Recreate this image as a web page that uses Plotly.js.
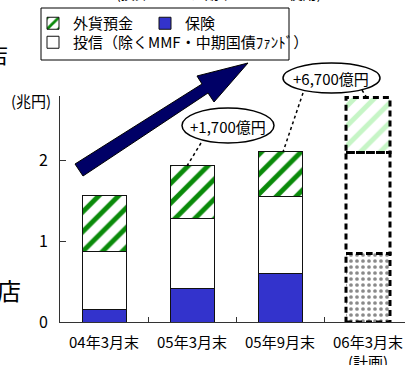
<!DOCTYPE html>
<html>
<head>
<meta charset="utf-8">
<script src="https://cdn.plot.ly/plotly-3.0.1.min.js"></script>
<style>
  html, body { margin: 0; padding: 0; background: #fff; }
  #chart { width: 405px; height: 365px; }
</style>
</head>
<body>
<div id="chart"></div>
<script>
// Categories (period ends; last one is the plan)
const periods = ['04年3月末', '05年3月末', '05年9月末', '06年3月末<br>(計画)'];

// Balances in trillion yen, stacked bottom to top
const hoken   = [0.15, 0.41, 0.60, 0.85];   // 保険
const toushin = [0.72, 0.87, 0.96, 1.25];   // 投信（除くMMF・中期国債ﾌｧﾝﾄﾞ）
const gaika   = [0.70, 0.66, 0.55, 0.68];   // 外貨預金

const yTicks = [0, 1, 2];
const planIndex = 3;

const FONT = '"Noto Sans CJK JP", "Noto Sans", sans-serif';
const W = 405, H = 365;
const M = { l: 60, r: 0, t: 96, b: 43 };
const plotW = W - M.l - M.r, plotH = H - M.t - M.b;

// pixel position -> paper coordinates for decorations around the plot
const px = x => (x - M.l) / plotW;
const py = y => (H - M.b - y) / plotH;

const isPlan = periods.map((_, i) => i === planIndex);
const lineW = isPlan.map(p => (p ? 0 : 1));
// split a series into its actual part and its planned part
const actualOf = s => s.map((v, i) => (isPlan[i] ? null : v));
const planOf = s => s.map((v, i) => (isPlan[i] ? v : null));

const traces = [
  {
    type: 'bar', name: '保険', x: periods, y: actualOf(hoken), legend: 'legend', legendrank: 2,
    marker: { color: '#3333cc', line: { color: '#111', width: 1 } }
  },
  {
    type: 'bar', name: '保険（計画）', x: periods, y: planOf(hoken), showlegend: false,
    marker: {
      color: '#ffffff', line: { width: 0 },
      pattern: { shape: '.', fgcolor: '#8a8a8a', bgcolor: '#ffffff', size: 6, solidity: 0.3 }
    }
  },
  {
    type: 'bar', name: '投信（除くMMF・中期国債ﾌｧﾝﾄﾞ）', x: periods, y: toushin, legend: 'legend2',
    marker: { color: '#ffffff', line: { color: '#111', width: lineW } }
  },
  {
    type: 'bar', name: '外貨預金', x: periods, y: gaika, legend: 'legend', legendrank: 1,
    marker: {
      color: '#ffffff',
      line: { color: '#111', width: lineW },
      pattern: {
        shape: '/',
        fgcolor: isPlan.map(p => p ? '#c6f5c6' : '#0a8a0a'),
        bgcolor: '#ffffff', size: 14, solidity: 0.35
      }
    }
  }
];

// dashed outlines around the planned segments
const shapes = [];
let base = 0;
[hoken, toushin, gaika].forEach(series => {
  const top = base + series[planIndex];
  shapes.push({
    type: 'rect', xref: 'x', yref: 'y',
    x0: planIndex - 0.25, x1: planIndex + 0.25, y0: base, y1: top,
    line: { color: '#000', width: 3, dash: '6px,4px' }, fillcolor: 'rgba(0,0,0,0)', layer: 'above'
  });
  base = top;
});

// growth arrow
const arrowPts = [[75, 164], [202, 84], [197, 76], [248, 63], [214, 102], [208, 93], [83, 176]];
shapes.push({
  type: 'path', xref: 'paper', yref: 'paper',
  path: 'M' + arrowPts.map(p => px(p[0]).toFixed(4) + ',' + py(p[1]).toFixed(4)).join(' L') + ' Z',
  fillcolor: '#000066', line: { color: '#000', width: 1 }
});

// leader lines and balloons for increments
[[[201, 143], [187, 166]], [[303, 93], [283, 152]], [[362, 90], [367, 98]]].forEach(([a, b]) => {
  shapes.push({
    type: 'line', xref: 'paper', yref: 'paper',
    x0: px(a[0]), y0: py(a[1]), x1: px(b[0]), y1: py(b[1]),
    line: { color: '#000', width: 1.5, dash: 'dot' }
  });
});
[[182, 108, 274, 143], [283, 63, 380, 93]].forEach(([x0, y0, x1, y1]) => {
  shapes.push({
    type: 'circle', xref: 'paper', yref: 'paper',
    x0: px(x0), x1: px(x1), y0: py(y1), y1: py(y0),
    fillcolor: '#ffffff', line: { color: '#000', width: 1.5 }
  });
});

// legend frame shared by both legend rows
shapes.push({
  type: 'rect', xref: 'paper', yref: 'paper',
  x0: px(41), x1: px(289), y0: py(60), y1: py(8),
  fillcolor: 'rgba(0,0,0,0)', line: { color: '#000', width: 1 }
});

const ann = (text, x, y, size, extra) => Object.assign({
  text, xref: 'paper', yref: 'paper', x: px(x), y: py(y), showarrow: false,
  xanchor: 'center', yanchor: 'middle',
  font: { family: FONT, size, color: '#000' }
}, extra || {});

const annotations = [
  ann('+1,700億円', 228, 126, 15),
  ann('+6,700億円', 331, 78, 15),
  ann('(兆円)', 31, 100, 15),
  ann('店', -3, 53, 22),
  ann('店', 9, 289, 24),
  ann('(換算レートは期末レートを使用)', 218, 5, 14, { yanchor: 'bottom' })
];

const legendBase = {
  orientation: 'h', xanchor: 'left', yanchor: 'top',
  borderwidth: 0, bgcolor: 'rgba(0,0,0,0)', traceorder: 'normal',
  font: { family: FONT, size: 15, color: '#000' },
  itemwidth: 30
};

const layout = {
  width: W, height: H,
  margin: M,
  paper_bgcolor: '#fff', plot_bgcolor: '#fff',
  barmode: 'stack', bargap: 0.5,
  font: { family: FONT, color: '#000' },
  showlegend: true,
  legend: Object.assign({}, legendBase, { x: px(33), y: py(7), entrywidth: 67 }),
  legend2: Object.assign({}, legendBase, { x: px(33), y: py(26) }),
  xaxis: {
    type: 'category', range: [-0.5, -0.5 + plotW / 88],
    showline: true, linecolor: '#333', linewidth: 1,
    ticks: 'inside', tickson: 'boundaries', ticklen: 5, tickcolor: '#333',
    tickfont: { family: FONT, size: 15, color: '#000' },
    ticklabelstandoff: 7,
    showgrid: false, zeroline: false, fixedrange: true
  },
  yaxis: {
    range: [0, 2.8], tickvals: yTicks, ticktext: yTicks.map(String),
    showline: true, linecolor: '#333', linewidth: 1,
    ticks: 'inside', ticklen: 6, tickcolor: '#333',
    tickfont: { family: FONT, size: 16, color: '#000' },
    ticklabelstandoff: 8,
    showgrid: false, zeroline: false, fixedrange: true
  },
  shapes, annotations
};

Plotly.newPlot('chart', traces, layout, { staticPlot: true, displayModeBar: false });
</script>
</body>
</html>
